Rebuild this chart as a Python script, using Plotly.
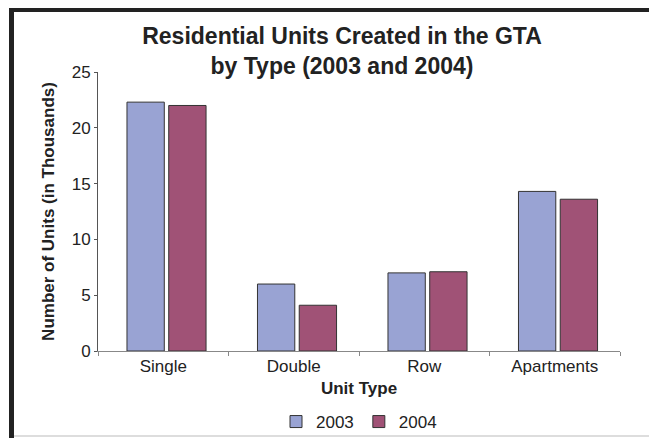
import plotly.graph_objects as go

# data (thousands of units)
unit_types = ['Single', 'Double', 'Row', 'Apartments']
units_2003 = [22.3, 6.0, 7.0, 14.3]
units_2004 = [22.0, 4.1, 7.1, 13.6]

COLOR_2003 = '#99A3D3'
COLOR_2004 = '#A05276'
FONT = 'Liberation Sans, Arial, sans-serif'

# the page body has an 8px margin, so the figure is 8px smaller than the window
FIG_W, FIG_H = 649, 430
# plot area in figure pixels
L, R, T, B = 90, 612, 64, 343
W, H = R - L, B - T


def px_x(p):
	return (p - L) / W


def px_y(p):
	return (B - p) / H


fig = go.Figure()
# bars sit a little right of the category centre in the original
fig.add_trace(go.Bar(x=unit_types, y=units_2003, name='2003', width=0.286, offset=-0.278,
                     marker=dict(color=COLOR_2003, line=dict(color='#333333', width=1))))
fig.add_trace(go.Bar(x=unit_types, y=units_2004, name='2004', width=0.286, offset=0.042,
                     marker=dict(color=COLOR_2004, line=dict(color='#333333', width=1))))

fig.update_layout(
	width=FIG_W, height=FIG_H,
	margin=dict(l=L, r=FIG_W - R, t=T, b=FIG_H - B, autoexpand=False),
	paper_bgcolor='white', plot_bgcolor='white',
	font=dict(family=FONT, color='#222222', size=17),
	title=dict(text='<b>Residential Units Created in the GTA<br>by Type (2003 and 2004)</b>',
			   font=dict(size=23, color='#222222'),
			   x=334 / FIG_W, xanchor='center', y=1 - 36 / FIG_H, yanchor='middle'),
	barmode='group',
	xaxis=dict(title=dict(text='<b>Unit Type</b>', font=dict(size=17), standoff=6),
			   range=[-0.5, 3.5], automargin=False,
			   showline=True, linecolor='#888888', linewidth=1,
			   ticks='outside', tickson='boundaries', ticklen=4, tickcolor='#888888',
			   showgrid=False, tickfont=dict(size=17)),
	yaxis=dict(title=dict(text='<b>Number of Units (in Thousands)</b>', font=dict(size=17), standoff=12),
			   range=[0, 25], dtick=5, automargin=False,
			   showline=True, linecolor='#555555', linewidth=1,
			   ticks='outside', ticklen=3, tickcolor='#555555',
			   showgrid=False, zeroline=False, tickfont=dict(size=17)),
	legend=dict(orientation='h', x=0.5, xanchor='center',
				yref='container', y=1 - 414 / FIG_H, yanchor='middle',
				bgcolor='rgba(0,0,0,0)',
				font=dict(size=17), itemwidth=30, traceorder='normal'),
	shapes=[
		# frame around the chart (left and top edges in black, bottom faint)
		dict(type='line', xref='paper', yref='paper', x0=px_x(3.5), x1=px_x(3.5),
			 y0=px_y(-1), y1=px_y(FIG_H), line=dict(color='#222222', width=5)),
		dict(type='line', xref='paper', yref='paper', x0=px_x(1), x1=px_x(FIG_W),
			 y0=px_y(1.5), y1=px_y(1.5), line=dict(color='#222222', width=5)),
		dict(type='line', xref='paper', yref='paper', x0=px_x(6), x1=px_x(FIG_W),
			 y0=px_y(428), y1=px_y(428), line=dict(color='#dddddd', width=2)),
	],
)

fig.write_html('out.html')
